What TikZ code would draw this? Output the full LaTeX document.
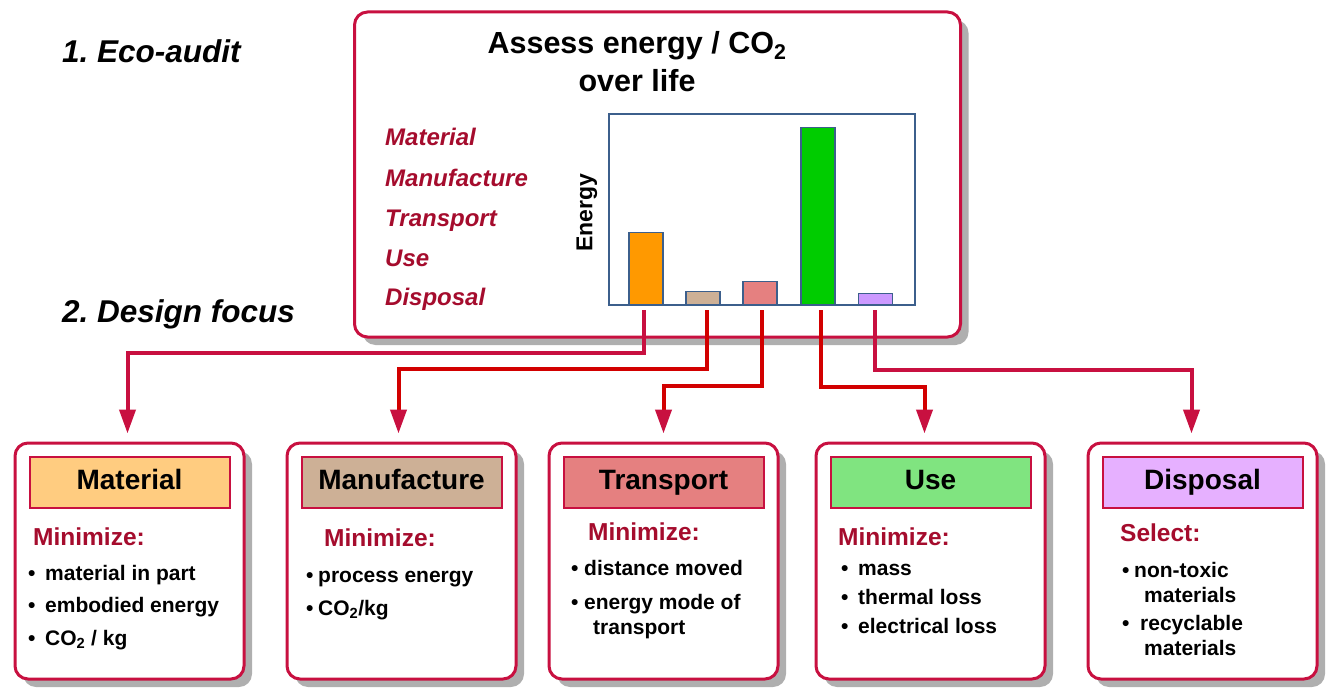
\documentclass[tikz,border=0pt]{standalone}
\usepackage{fontspec}
\setmainfont{Liberation Sans}
\usetikzlibrary{arrows.meta,positioning,shadows}

\definecolor{rim}{RGB}{200,16,64}
\definecolor{wine}{RGB}{165,12,45}
\definecolor{flame}{RGB}{210,0,0}
\definecolor{shade}{RGB}{175,175,175}
\definecolor{frame}{RGB}{60,95,140}
\definecolor{orangebar}{RGB}{255,153,0}
\definecolor{tanbar}{RGB}{205,176,150}
\definecolor{pinkbar}{RGB}{229,128,128}
\definecolor{greenbar}{RGB}{0,204,0}
\definecolor{lilacbar}{RGB}{204,153,255}
\definecolor{orangehead}{RGB}{255,204,128}
\definecolor{greenhead}{RGB}{128,228,128}
\definecolor{lilachead}{RGB}{230,176,255}

\newcommand{\itemdot}[1][17pt]{\makebox[#1][l]{•}}

\tikzstyle{panel} = [draw=rim, line width=3pt, rounded corners=13pt, fill=white, inner sep=0pt, drop shadow={shadow xshift=8pt, shadow yshift=-8pt, fill=shade, opacity=1}]
\tikzstyle{tab} = [draw=rim, line width=2pt, minimum width=200pt, minimum height=51pt, text height=20pt, text depth=6pt, font=\fontsize{28}{32}\selectfont\bfseries]
\tikzstyle{bar} = [draw=frame, line width=1.2pt, minimum width=34pt, inner sep=0pt, anchor=south]
\tikzstyle{plotframe} = [draw=frame, line width=1.2pt, minimum width=306pt, minimum height=191pt, inner sep=0pt]
\tikzstyle{headline} = [font=\fontsize{30.5}{38.5}\selectfont\bfseries, align=center, anchor=base, inner sep=0pt]
\tikzstyle{phase} = [text=wine, font=\fontsize{24}{27}\selectfont\bfseries\itshape, anchor=base west, inner sep=0pt]
\tikzstyle{stage} = [font=\fontsize{31.5}{34}\selectfont\bfseries\itshape, anchor=base west, inner sep=0pt]
\tikzstyle{verb} = [text=wine, font=\fontsize{24.5}{27}\selectfont\bfseries, anchor=base west, inner sep=0pt]
\tikzstyle{items} = [font=\fontsize{21}{32.5}\selectfont\bfseries, align=left, anchor=base west, inner sep=0pt]
\tikzstyle{link} = [line width=4pt, shorten >=8pt, -{Triangle[length=24pt,width=16pt,color=rim]}]

\begin{document}
\begin{tikzpicture}[x=1pt, y=-1pt]
\useasboundingbox (0,0) rectangle (1334,698);
%captions
\node[stage] (audit) at (62,63) {1.\ Eco-audit};
\node[stage] (focus) at (62,322) {2.\ Design focus};
%begin eco-audit panel
\node[panel, minimum width=606pt, minimum height=325pt] (assess) at (657.5,174.5) {};
\node[headline] (heading) at (637,92) {Assess energy / CO\textsubscript{2}\\over life};
\node[phase] (lblMat) at (385,146) {Material};
\node[phase] (lblMan) at (385,186) {Manufacture};
\node[phase] (lblTra) at (385,226) {Transport};
\node[phase] (lblUse) at (385,266) {Use};
\node[phase] (lblDis) at (385,305) {Disposal};
%chart
\node[plotframe] (chart) at (762,209.5) {};
\node[rotate=90, font=\fontsize{23}{27}\selectfont\bfseries, inner sep=0pt] (energy) at (587,213) {Energy};
\node[bar, fill=orangebar, minimum height=72pt] (barMat) at (646,305) {};
\node[bar, fill=tanbar, minimum height=13pt] (barMan) at (703,305) {};
\node[bar, fill=pinkbar, minimum height=23pt] (barTra) at (760,305) {};
\node[bar, fill=greenbar, minimum height=177pt] (barUse) at (818,305) {};
\node[bar, fill=lilacbar, minimum height=11pt] (barDis) at (875.5,305) {};
%end eco-audit panel
%begin design boxes
%box material
\node[panel, minimum width=229pt, minimum height=236pt] (boxMat) at (129.5,561) {};
\node[tab, fill=orangehead, below=14pt of boxMat.north] (tabMat) {Material};
\node[verb] (verbMat) at (33,545) {Minimize:};
\node[items] (listMat) at (28,645) {\itemdot material in part\\ \itemdot embodied energy\\ \itemdot CO\textsubscript{2} / kg};
%box manufacture
\node[panel, minimum width=229pt, minimum height=236pt] (boxMan) at (401.5,561) {};
\node[tab, fill=tanbar, below=14pt of boxMan.north] (tabMan) {Manufacture};
\node[verb] (verbMan) at (324,546) {Minimize:};
\node[items, font=\fontsize{21}{33}\selectfont\bfseries] (listMan) at (306,615) {\itemdot[12pt]process energy\\ \itemdot[12pt]CO\textsubscript{2}/kg};
%box transport
\node[panel, minimum width=229pt, minimum height=236pt] (boxTra) at (663.5,561) {};
\node[tab, fill=pinkbar, below=14pt of boxTra.north] (tabTra) {Transport};
\node[verb] (verbTra) at (588,540) {Minimize:};
\node[items, font=\fontsize{21}{25}\selectfont\bfseries] (listTra) at (571,634) {\itemdot[13pt]distance moved\\[9pt] \itemdot[13pt]energy mode of\\ \hspace*{22pt}transport};
%box use
\node[panel, minimum width=229pt, minimum height=236pt] (boxUse) at (930.5,561) {};
\node[tab, fill=greenhead, below=14pt of boxUse.north] (tabUse) {Use};
\node[verb] (verbUse) at (838,545) {Minimize:};
\node[items, font=\fontsize{21}{29}\selectfont\bfseries] (listUse) at (841,633) {\itemdot mass\\ \itemdot thermal loss\\ \itemdot electrical loss};
%box disposal
\node[panel, minimum width=229pt, minimum height=236pt] (boxDis) at (1202.5,561) {};
\node[tab, fill=lilachead, below=14pt of boxDis.north] (tabDis) {Disposal};
\node[verb] (verbDis) at (1120,541) {Select:};
\node[items, font=\fontsize{21}{25}\selectfont\bfseries] (listDis) at (1122,655) {\itemdot[12pt]non-toxic\\ \hspace*{22pt}materials\\[3pt] \itemdot[18pt]recyclable\\ \hspace*{22pt}materials};
%end design boxes
%begin links
\draw[link, rim] ([xshift=-2pt,yshift=-5pt]barMat.south) -- ++(0,43) -| ([xshift=-2pt]boxMat.north);
\draw[link, flame] ([xshift=4pt,yshift=-5pt]barMan.south) -- ++(0,59) -| ([xshift=-3pt]boxMan.north);
\draw[link, flame] ([xshift=2pt,yshift=-5pt]barTra.south) -- ++(0,76) -| (boxTra.north);
\draw[link, flame] ([xshift=3pt,yshift=-5pt]barUse.south) -- ++(0,77) -| ([xshift=-6pt]boxUse.north);
\draw[link, rim] ([xshift=-1pt,yshift=-5pt]barDis.south) -- ++(0,60) -| ([xshift=-11pt]boxDis.north);
%end links
\end{tikzpicture}
\end{document}
